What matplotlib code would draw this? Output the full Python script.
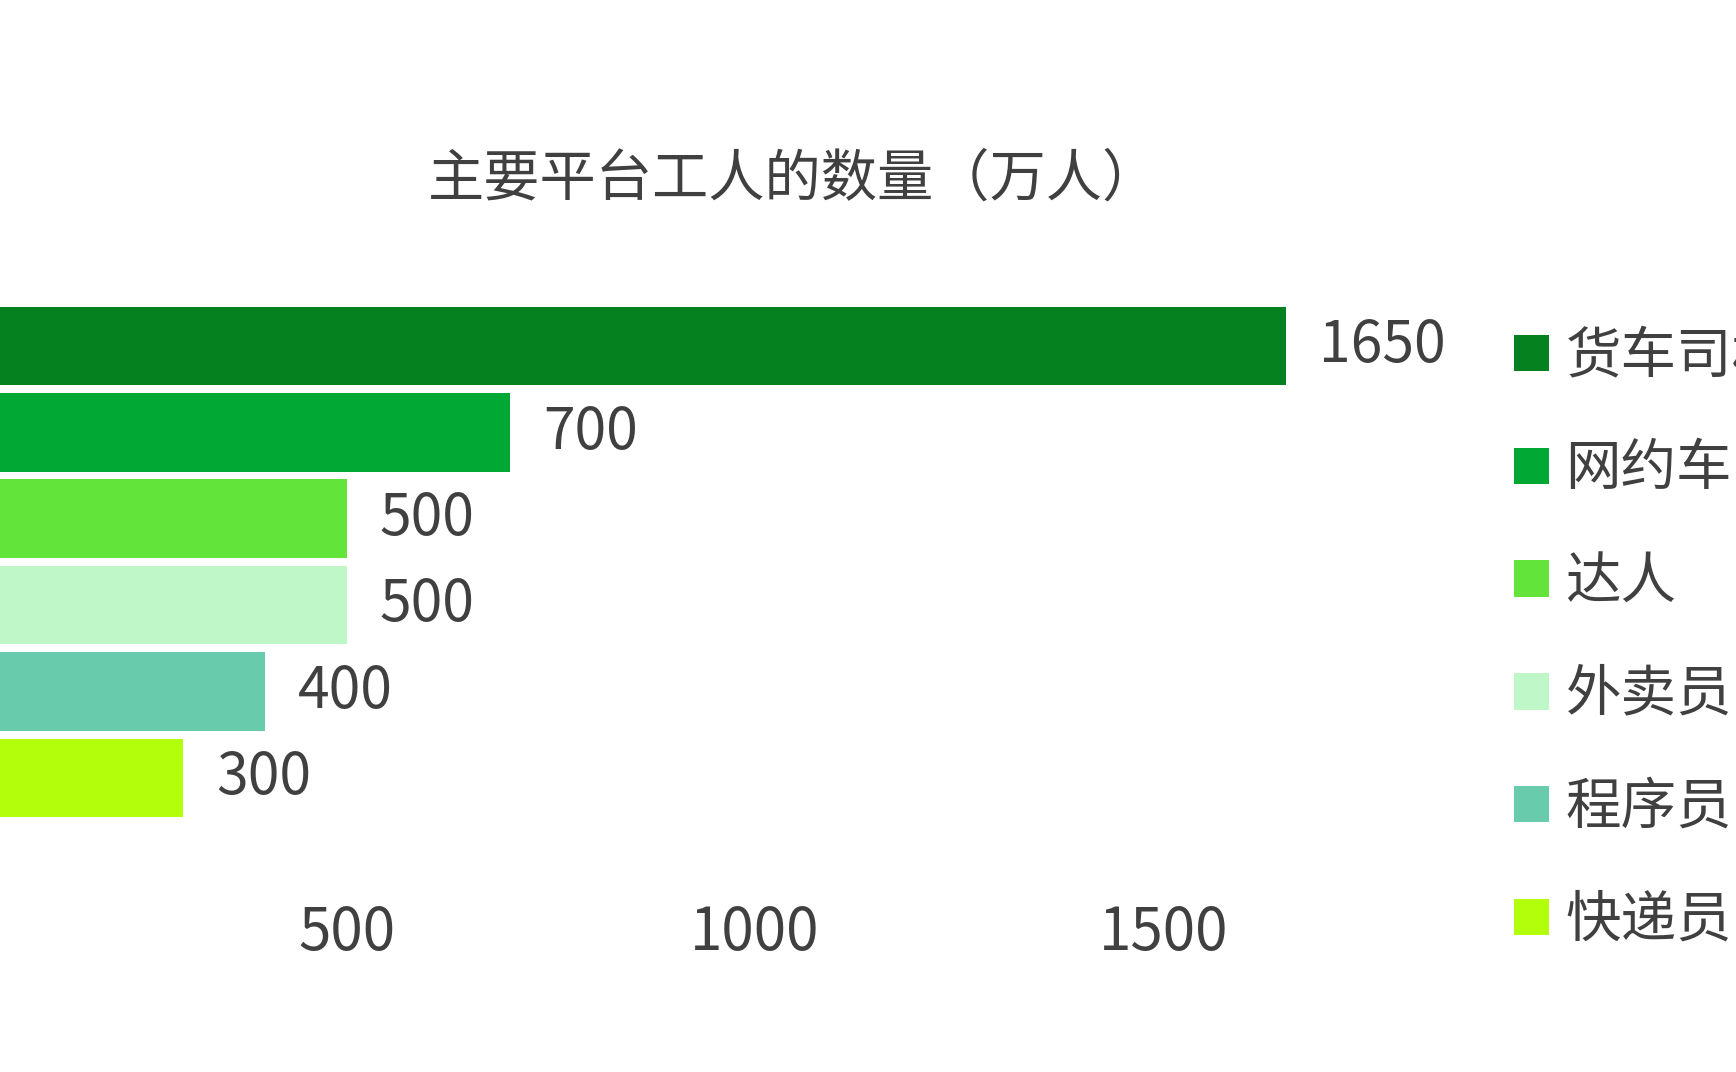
import matplotlib
matplotlib.use('Agg')
import matplotlib.pyplot as plt

plt.rcParams['font.family'] = ['Noto Sans CJK SC', 'DejaVu Sans']

# Data
categories = ['货车司机', '网约车司机', '达人', '外卖员', '程序员', '快递员']
values = [1650, 700, 500, 500, 400, 300]
colors = ['#05821f', '#02a834', '#63e43b', '#c0f7c8', '#67cbac', '#b3fe0b']
xticks = [500, 1000, 1500]
title = '主要平台工人的数量（万人）'

text_color = '#404040'

fig = plt.figure(figsize=(17.36, 10.72), dpi=100)
# axes extends past the left edge, like the cropped screenshot
ax = fig.add_axes([-0.0357, 0.234, 0.9412, 0.4836])

y = list(range(len(categories)))
bars = ax.barh(y, values, height=0.91, color=colors)

ax.set_ylim(5.5, -0.5)
ax.set_xlim(0, 2000)
ax.set_yticks([])
ax.set_xticks(xticks)
ax.set_xticklabels([str(t) for t in xticks])
ax.tick_params(axis='x', length=0, pad=59, labelsize=42, labelcolor=text_color)
for s in ax.spines.values():
    s.set_visible(False)

ax.bar_label(bars, labels=[str(v) for v in values], padding=24,
             fontsize=41, color=text_color)

fig.text(0.457, 0.832, title, ha='center', va='center',
         fontsize=40.5, color=text_color)

leg = fig.legend(handles=list(bars), labels=categories,
                 loc='upper left', bbox_to_anchor=(0.872, 0.694),
                 frameon=False, fontsize=40, handlelength=0.63,
                 handleheight=0.63, handletextpad=0.3, labelspacing=0.995,
                 borderaxespad=0, borderpad=0)
for t in leg.get_texts():
    t.set_color(text_color)

fig.savefig('out.png', dpi=100)
